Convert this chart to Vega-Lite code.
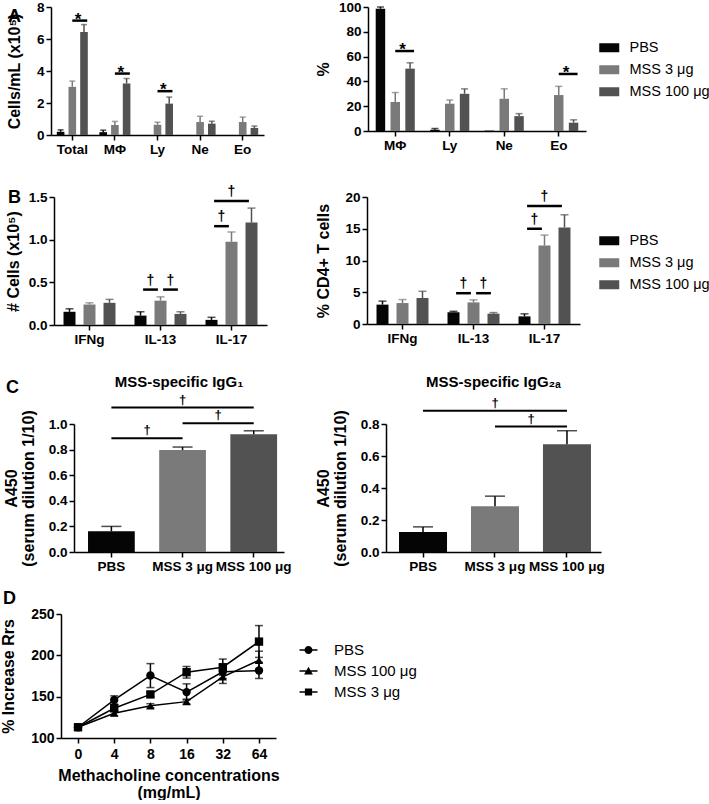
{
"$schema": "https://vega.github.io/schema/vega-lite/v6.json",
"padding": 0,
"background": "white",
"config": {
  "font": "Liberation Sans",
  "view": {"stroke": null},
  "axis": {"domainColor": "black", "domainWidth": 1.5, "tickColor": "black", "tickWidth": 1.5, "tickSize": 5, "labelColor": "black", "labelFontWeight": "bold", "labelFontSize": 13.5, "labelPadding": 2, "titleColor": "black", "titleFontWeight": "bold", "titleFontSize": 16, "titleLineHeight": 17, "grid": false},
  "axisX": {"labelAngle": 0},
  "title": {"color": "black", "fontWeight": "bold", "font": "Liberation Sans"},
  "legend": {"labelColor": "black", "labelFontSize": 15, "labelFont": "Liberation Sans", "padding": 0},
  "text": {"font": "Liberation Sans"}
},
"datasets": {
  "a1": [
    {"cat": "Total", "series": "PBS", "value": 0.2, "upper": 0.32},
    {"cat": "Total", "series": "MSS 3 μg", "value": 3.01, "upper": 3.37},
    {"cat": "Total", "series": "MSS 100 μg", "value": 6.44, "upper": 6.9},
    {"cat": "MΦ", "series": "PBS", "value": 0.18, "upper": 0.3},
    {"cat": "MΦ", "series": "MSS 3 μg", "value": 0.62, "upper": 0.85},
    {"cat": "MΦ", "series": "MSS 100 μg", "value": 3.22, "upper": 3.53},
    {"cat": "Ly", "series": "PBS", "value": 0, "upper": null},
    {"cat": "Ly", "series": "MSS 3 μg", "value": 0.64, "upper": 0.8},
    {"cat": "Ly", "series": "MSS 100 μg", "value": 1.96, "upper": 2.37},
    {"cat": "Ne", "series": "PBS", "value": 0, "upper": null},
    {"cat": "Ne", "series": "MSS 3 μg", "value": 0.81, "upper": 1.17},
    {"cat": "Ne", "series": "MSS 100 μg", "value": 0.71, "upper": 0.86},
    {"cat": "Eo", "series": "PBS", "value": 0, "upper": null},
    {"cat": "Eo", "series": "MSS 3 μg", "value": 0.81, "upper": 1.12},
    {"cat": "Eo", "series": "MSS 100 μg", "value": 0.44, "upper": 0.56}
  ],
  "a1s": [
    {"cat": "Total", "from": "MSS 3 μg", "to": "MSS 100 μg", "level": 7.15, "sym": "*"},
    {"cat": "MΦ", "from": "MSS 3 μg", "to": "MSS 100 μg", "level": 3.84, "sym": "*"},
    {"cat": "Ly", "from": "MSS 3 μg", "to": "MSS 100 μg", "level": 2.74, "sym": "*"}
  ],
  "a2": [
    {"cat": "MΦ", "series": "PBS", "value": 98.6, "upper": 100},
    {"cat": "MΦ", "series": "MSS 3 μg", "value": 23.4, "upper": 31},
    {"cat": "MΦ", "series": "MSS 100 μg", "value": 50.3, "upper": 55},
    {"cat": "Ly", "series": "PBS", "value": 1, "upper": 2},
    {"cat": "Ly", "series": "MSS 3 μg", "value": 22, "upper": 25},
    {"cat": "Ly", "series": "MSS 100 μg", "value": 30, "upper": 34},
    {"cat": "Ne", "series": "PBS", "value": 0.3, "upper": null},
    {"cat": "Ne", "series": "MSS 3 μg", "value": 26, "upper": 34},
    {"cat": "Ne", "series": "MSS 100 μg", "value": 12, "upper": 14},
    {"cat": "Eo", "series": "PBS", "value": 0, "upper": null},
    {"cat": "Eo", "series": "MSS 3 μg", "value": 29, "upper": 36},
    {"cat": "Eo", "series": "MSS 100 μg", "value": 6.7, "upper": 9}
  ],
  "a2s": [
    {"cat": "MΦ", "from": "MSS 3 μg", "to": "MSS 100 μg", "level": 64.5, "sym": "*"},
    {"cat": "Eo", "from": "MSS 3 μg", "to": "MSS 100 μg", "level": 46, "sym": "*"}
  ],
  "b1": [
    {"cat": "IFNg", "series": "PBS", "value": 0.155, "upper": 0.19},
    {"cat": "IFNg", "series": "MSS 3 μg", "value": 0.24, "upper": 0.26},
    {"cat": "IFNg", "series": "MSS 100 μg", "value": 0.26, "upper": 0.3},
    {"cat": "IL-13", "series": "PBS", "value": 0.11, "upper": 0.155},
    {"cat": "IL-13", "series": "MSS 3 μg", "value": 0.285, "upper": 0.33},
    {"cat": "IL-13", "series": "MSS 100 μg", "value": 0.13, "upper": 0.155},
    {"cat": "IL-17", "series": "PBS", "value": 0.06, "upper": 0.09},
    {"cat": "IL-17", "series": "MSS 3 μg", "value": 0.975, "upper": 1.09},
    {"cat": "IL-17", "series": "MSS 100 μg", "value": 1.2, "upper": 1.37}
  ],
  "b1s": [
    {"cat": "IL-13", "from": "PBS", "to": "MSS 3 μg", "level": 0.415, "sym": "†"},
    {"cat": "IL-13", "from": "MSS 3 μg", "to": "MSS 100 μg", "level": 0.415, "sym": "†"},
    {"cat": "IL-17", "from": "PBS", "to": "MSS 3 μg", "level": 1.158, "sym": "†"},
    {"cat": "IL-17", "from": "PBS", "to": "MSS 100 μg", "level": 1.454, "sym": "†"}
  ],
  "b2": [
    {"cat": "IFNg", "series": "PBS", "value": 3.05, "upper": 3.6},
    {"cat": "IFNg", "series": "MSS 3 μg", "value": 3.3, "upper": 3.85},
    {"cat": "IFNg", "series": "MSS 100 μg", "value": 4.1, "upper": 5.15},
    {"cat": "IL-13", "series": "PBS", "value": 1.85, "upper": 2.0},
    {"cat": "IL-13", "series": "MSS 3 μg", "value": 3.4, "upper": 3.8},
    {"cat": "IL-13", "series": "MSS 100 μg", "value": 1.63, "upper": 1.8},
    {"cat": "IL-17", "series": "PBS", "value": 1.2, "upper": 1.6},
    {"cat": "IL-17", "series": "MSS 3 μg", "value": 12.35, "upper": 14.0},
    {"cat": "IL-17", "series": "MSS 100 μg", "value": 15.2, "upper": 17.2}
  ],
  "b2s": [
    {"cat": "IL-13", "from": "PBS", "to": "MSS 3 μg", "level": 4.85, "sym": "†"},
    {"cat": "IL-13", "from": "MSS 3 μg", "to": "MSS 100 μg", "level": 4.85, "sym": "†"},
    {"cat": "IL-17", "from": "PBS", "to": "MSS 3 μg", "level": 15.0, "sym": "†"},
    {"cat": "IL-17", "from": "PBS", "to": "MSS 100 μg", "level": 18.6, "sym": "†"}
  ],
  "c1": [
    {"series": "PBS", "value": 0.162, "upper": 0.2},
    {"series": "MSS 3 μg", "value": 0.796, "upper": 0.82},
    {"series": "MSS 100 μg", "value": 0.92, "upper": 0.947}
  ],
  "c1s": [
    {"from": "PBS", "to": "MSS 3 μg", "level": 0.888, "sym": "†"},
    {"from": "MSS 3 μg", "to": "MSS 100 μg", "level": 1.005, "sym": "†"},
    {"from": "PBS", "to": "MSS 100 μg", "level": 1.128, "sym": "†"}
  ],
  "c2": [
    {"series": "PBS", "value": 0.125, "upper": 0.157},
    {"series": "MSS 3 μg", "value": 0.286, "upper": 0.349},
    {"series": "MSS 100 μg", "value": 0.673, "upper": 0.758}
  ],
  "c2s": [
    {"from": "MSS 3 μg", "to": "MSS 100 μg", "level": 0.784, "sym": "†"},
    {"from": "PBS", "to": "MSS 100 μg", "level": 0.883, "sym": "†"}
  ],
  "d": [
    {"series": "PBS", "conc": 0, "value": 113, "lo": 112, "hi": 114},
    {"series": "PBS", "conc": 4, "value": 146, "lo": 141, "hi": 151},
    {"series": "PBS", "conc": 8, "value": 175.6, "lo": 161, "hi": 190},
    {"series": "PBS", "conc": 16, "value": 155.5, "lo": 146, "hi": 165.5},
    {"series": "PBS", "conc": 32, "value": 180, "lo": 172, "hi": 188},
    {"series": "PBS", "conc": 64, "value": 181.6, "lo": 172, "hi": 191.5},
    {"series": "MSS 100 μg", "conc": 0, "value": 113, "lo": 112, "hi": 114},
    {"series": "MSS 100 μg", "conc": 4, "value": 130, "lo": 127, "hi": 133},
    {"series": "MSS 100 μg", "conc": 8, "value": 139, "lo": 136.5, "hi": 141.5},
    {"series": "MSS 100 μg", "conc": 16, "value": 144, "lo": 141, "hi": 147},
    {"series": "MSS 100 μg", "conc": 32, "value": 174, "lo": 166, "hi": 182},
    {"series": "MSS 100 μg", "conc": 64, "value": 194, "lo": 183, "hi": 205},
    {"series": "MSS 3 μg", "conc": 0, "value": 113, "lo": 112, "hi": 114},
    {"series": "MSS 3 μg", "conc": 4, "value": 136, "lo": 132, "hi": 140},
    {"series": "MSS 3 μg", "conc": 8, "value": 152.7, "lo": 150, "hi": 155.5},
    {"series": "MSS 3 μg", "conc": 16, "value": 179.6, "lo": 172.5, "hi": 186.5},
    {"series": "MSS 3 μg", "conc": 32, "value": 185.6, "lo": 176, "hi": 195.5},
    {"series": "MSS 3 μg", "conc": 64, "value": 216.6, "lo": 197.5, "hi": 236}
  ]
},
"columns": 1,
"align": "none",
"spacing": 16,
"resolve": {"scale": {"color": "independent", "shape": "independent", "xOffset": "independent"}, "legend": {"color": "independent", "shape": "independent"}},
"concat": [
{
  "columns": 1,
  "align": "none",
  "spacing": 28,
  "resolve": {"scale": {"color": "independent", "shape": "independent", "xOffset": "independent"}, "legend": {"color": "independent", "shape": "independent"}},
  "concat": [
  {
    "hconcat": [
    {
      "width": 213, "height": 128,
      "title": {"text": "A", "anchor": "start", "frame": "group", "fontSize": 18, "offset": -25.5, "baseline": "top", "dx": -43},
      "data": {"name": "a1"},
      "encoding": {"x": {"field": "cat", "type": "nominal", "sort": ["Total", "MΦ", "Ly", "Ne", "Eo"], "scale": {"paddingInner": 0.176, "paddingOuter": 0.088}, "axis": {"title": null}}},
      "layer": [
        {"mark": {"type": "bar"}, "encoding": {
          "xOffset": {"field": "series", "type": "nominal", "sort": ["PBS", "MSS 3 μg", "MSS 100 μg"], "scale": {"domain": ["PBS", "MSS 3 μg", "MSS 100 μg"], "paddingInner": 0.35, "paddingOuter": 0.175}},
          "y": {"field": "value", "type": "quantitative", "title": "Cells/mL (x10⁵)", "scale": {"domain": [0, 8], "nice": false}, "axis": {"values": [0, 2, 4, 6, 8], "titlePadding": 14}},
          "color": {"field": "series", "type": "nominal", "scale": {"domain": ["PBS", "MSS 3 μg", "MSS 100 μg"], "range": ["#050505", "#7a7a7a", "#525252"]}, "legend": null}}},
        {"transform": [{"filter": "isValid(datum.upper)"}], "mark": {"type": "rule", "strokeWidth": 1.5}, "encoding": {
          "xOffset": {"field": "series", "type": "nominal", "sort": ["PBS", "MSS 3 μg", "MSS 100 μg"], "scale": {"domain": ["PBS", "MSS 3 μg", "MSS 100 μg"], "paddingInner": 0.35, "paddingOuter": 0.175}},
          "y": {"field": "value", "type": "quantitative", "title": "Cells/mL (x10⁵)", "scale": {"domain": [0, 8], "nice": false}, "axis": {"values": [0, 2, 4, 6, 8], "titlePadding": 14}},
          "y2": {"field": "upper"},
          "color": {"field": "series", "type": "nominal", "scale": {"domain": ["PBS", "MSS 3 μg", "MSS 100 μg"], "range": ["#050505", "#7a7a7a", "#525252"]}, "legend": null}}},
        {"transform": [{"filter": "isValid(datum.upper)"}], "mark": {"type": "tick", "size": 6, "thickness": 1.5}, "encoding": {
          "xOffset": {"field": "series", "type": "nominal", "sort": ["PBS", "MSS 3 μg", "MSS 100 μg"], "scale": {"domain": ["PBS", "MSS 3 μg", "MSS 100 μg"], "paddingInner": 0.35, "paddingOuter": 0.175}},
          "y": {"field": "upper", "type": "quantitative", "title": "Cells/mL (x10⁵)", "scale": {"domain": [0, 8], "nice": false}, "axis": {"values": [0, 2, 4, 6, 8], "titlePadding": 14}},
          "color": {"field": "series", "type": "nominal", "scale": {"domain": ["PBS", "MSS 3 μg", "MSS 100 μg"], "range": ["#050505", "#7a7a7a", "#525252"]}, "legend": null}}},
        {"data": {"name": "a1s"}, "transform": [{"fold": ["from", "to"], "as": ["end", "series"]}], "mark": {"type": "line", "color": "black", "strokeWidth": 2.5}, "encoding": {
          "xOffset": {"field": "series", "type": "nominal", "sort": ["PBS", "MSS 3 μg", "MSS 100 μg"], "scale": {"domain": ["PBS", "MSS 3 μg", "MSS 100 μg"], "paddingInner": 0.35, "paddingOuter": 0.175}},
          "y": {"field": "level", "type": "quantitative", "title": "Cells/mL (x10⁵)", "scale": {"domain": [0, 8], "nice": false}, "axis": {"values": [0, 2, 4, 6, 8], "titlePadding": 14}},
          "detail": [{"field": "cat"}, {"field": "from"}, {"field": "to"}]}},
        {"data": {"name": "a1s"}, "transform": [{"calculate": "(indexof(['PBS','MSS 3 μg','MSS 100 μg'], datum.from) + indexof(['PBS','MSS 3 μg','MSS 100 μg'], datum.to)) / 2", "as": "mid"}], "mark": {"type": "text", "fontSize": 17, "fontWeight": "bold", "baseline": "alphabetic", "dy": 4, "color": "black"}, "encoding": {
          "xOffset": {"field": "mid", "type": "quantitative", "scale": {"domain": [-0.5, 2.5], "nice": false, "zero": false}},
          "y": {"field": "level", "type": "quantitative", "title": "Cells/mL (x10⁵)", "scale": {"domain": [0, 8], "nice": false}, "axis": {"values": [0, 2, 4, 6, 8], "titlePadding": 14}},
          "text": {"field": "sym"}}}
      ],
      "resolve": {"scale": {"xOffset": "independent"}}
    },
    {
      "width": 218, "height": 124,
      "data": {"name": "a2"},
      "encoding": {"x": {"field": "cat", "type": "nominal", "sort": ["MΦ", "Ly", "Ne", "Eo"], "scale": {"paddingInner": 0.185, "paddingOuter": 0.0925}, "axis": {"title": null}}},
      "layer": [
        {"mark": {"type": "bar"}, "encoding": {
          "xOffset": {"field": "series", "type": "nominal", "sort": ["PBS", "MSS 3 μg", "MSS 100 μg"], "scale": {"domain": ["PBS", "MSS 3 μg", "MSS 100 μg"], "paddingInner": 0.36, "paddingOuter": 0.18}},
          "y": {"field": "value", "type": "quantitative", "title": "%", "scale": {"domain": [0, 100], "nice": false}, "axis": {"values": [0, 20, 40, 60, 80, 100], "titlePadding": 6.5}},
          "color": {"field": "series", "type": "nominal", "scale": {"domain": ["PBS", "MSS 3 μg", "MSS 100 μg"], "range": ["#050505", "#7a7a7a", "#525252"]}, "legend": {"orient": "none", "legendX": 234, "legendY": 33.5, "title": null, "symbolType": "M-2,-0.9H2V0.9H-2Z", "symbolSize": 100, "symbolStrokeWidth": 0, "labelFontSize": 14.5, "labelOffset": 13, "rowPadding": 7}}}},
        {"transform": [{"filter": "isValid(datum.upper)"}], "mark": {"type": "rule", "strokeWidth": 1.5}, "encoding": {
          "xOffset": {"field": "series", "type": "nominal", "sort": ["PBS", "MSS 3 μg", "MSS 100 μg"], "scale": {"domain": ["PBS", "MSS 3 μg", "MSS 100 μg"], "paddingInner": 0.36, "paddingOuter": 0.18}},
          "y": {"field": "value", "type": "quantitative", "title": "%", "scale": {"domain": [0, 100], "nice": false}, "axis": {"values": [0, 20, 40, 60, 80, 100], "titlePadding": 6.5}},
          "y2": {"field": "upper"},
          "color": {"field": "series", "type": "nominal", "scale": {"domain": ["PBS", "MSS 3 μg", "MSS 100 μg"], "range": ["#050505", "#7a7a7a", "#525252"]}, "legend": null}}},
        {"transform": [{"filter": "isValid(datum.upper)"}], "mark": {"type": "tick", "size": 7, "thickness": 1.5}, "encoding": {
          "xOffset": {"field": "series", "type": "nominal", "sort": ["PBS", "MSS 3 μg", "MSS 100 μg"], "scale": {"domain": ["PBS", "MSS 3 μg", "MSS 100 μg"], "paddingInner": 0.36, "paddingOuter": 0.18}},
          "y": {"field": "upper", "type": "quantitative", "title": "%", "scale": {"domain": [0, 100], "nice": false}, "axis": {"values": [0, 20, 40, 60, 80, 100], "titlePadding": 6.5}},
          "color": {"field": "series", "type": "nominal", "scale": {"domain": ["PBS", "MSS 3 μg", "MSS 100 μg"], "range": ["#050505", "#7a7a7a", "#525252"]}, "legend": null}}},
        {"data": {"name": "a2s"}, "transform": [{"fold": ["from", "to"], "as": ["end", "series"]}], "mark": {"type": "line", "color": "black", "strokeWidth": 2.5}, "encoding": {
          "xOffset": {"field": "series", "type": "nominal", "sort": ["PBS", "MSS 3 μg", "MSS 100 μg"], "scale": {"domain": ["PBS", "MSS 3 μg", "MSS 100 μg"], "paddingInner": 0.36, "paddingOuter": 0.18}},
          "y": {"field": "level", "type": "quantitative", "title": "%", "scale": {"domain": [0, 100], "nice": false}, "axis": {"values": [0, 20, 40, 60, 80, 100], "titlePadding": 6.5}},
          "detail": [{"field": "cat"}, {"field": "from"}, {"field": "to"}]}},
        {"data": {"name": "a2s"}, "transform": [{"calculate": "(indexof(['PBS','MSS 3 μg','MSS 100 μg'], datum.from) + indexof(['PBS','MSS 3 μg','MSS 100 μg'], datum.to)) / 2", "as": "mid"}], "mark": {"type": "text", "fontSize": 17, "fontWeight": "bold", "baseline": "alphabetic", "dy": 4, "color": "black"}, "encoding": {
          "xOffset": {"field": "mid", "type": "quantitative", "scale": {"domain": [-0.5, 2.5], "nice": false, "zero": false}},
          "y": {"field": "level", "type": "quantitative", "title": "%", "scale": {"domain": [0, 100], "nice": false}, "axis": {"values": [0, 20, 40, 60, 80, 100], "titlePadding": 6.5}},
          "text": {"field": "sym"}}}
      ],
      "resolve": {"scale": {"xOffset": "independent"}}
    }
    ],
    "spacing": 104,
    "bounds": "flush",
    "resolve": {"scale": {"color": "independent", "shape": "independent", "xOffset": "independent"}, "legend": {"color": "independent", "shape": "independent"}}
  },
  {
    "hconcat": [
    {
      "width": 216, "height": 128,
      "title": {"text": "B", "anchor": "start", "fontSize": 18, "offset": -21.6, "baseline": "top", "dx": 2},
      "data": {"name": "b1"},
      "encoding": {"x": {"field": "cat", "type": "nominal", "sort": ["IFNg", "IL-13", "IL-17"], "scale": {"range": [3, 216], "paddingInner": 0.155, "paddingOuter": 0.0775}, "axis": {"title": null}}},
      "layer": [
        {"mark": {"type": "bar"}, "encoding": {
          "xOffset": {"field": "series", "type": "nominal", "sort": ["PBS", "MSS 3 μg", "MSS 100 μg"], "scale": {"domain": ["PBS", "MSS 3 μg", "MSS 100 μg"], "paddingInner": 0.4, "paddingOuter": 0.2}},
          "y": {"field": "value", "type": "quantitative", "title": "# Cells (x10⁵)", "scale": {"domain": [0, 1.5], "nice": false}, "axis": {"values": [0, 0.5, 1, 1.5], "format": ".1f", "titlePadding": 6.25, "offset": -3}},
          "color": {"field": "series", "type": "nominal", "scale": {"domain": ["PBS", "MSS 3 μg", "MSS 100 μg"], "range": ["#050505", "#7a7a7a", "#525252"]}, "legend": null}}},
        {"transform": [{"filter": "isValid(datum.upper)"}], "mark": {"type": "rule", "strokeWidth": 1.5}, "encoding": {
          "xOffset": {"field": "series", "type": "nominal", "sort": ["PBS", "MSS 3 μg", "MSS 100 μg"], "scale": {"domain": ["PBS", "MSS 3 μg", "MSS 100 μg"], "paddingInner": 0.4, "paddingOuter": 0.2}},
          "y": {"field": "value", "type": "quantitative", "title": "# Cells (x10⁵)", "scale": {"domain": [0, 1.5], "nice": false}, "axis": {"values": [0, 0.5, 1, 1.5], "format": ".1f", "titlePadding": 6.25, "offset": -3}},
          "y2": {"field": "upper"},
          "color": {"field": "series", "type": "nominal", "scale": {"domain": ["PBS", "MSS 3 μg", "MSS 100 μg"], "range": ["#050505", "#7a7a7a", "#525252"]}, "legend": null}}},
        {"transform": [{"filter": "isValid(datum.upper)"}], "mark": {"type": "tick", "size": 8, "thickness": 1.5}, "encoding": {
          "xOffset": {"field": "series", "type": "nominal", "sort": ["PBS", "MSS 3 μg", "MSS 100 μg"], "scale": {"domain": ["PBS", "MSS 3 μg", "MSS 100 μg"], "paddingInner": 0.4, "paddingOuter": 0.2}},
          "y": {"field": "upper", "type": "quantitative", "title": "# Cells (x10⁵)", "scale": {"domain": [0, 1.5], "nice": false}, "axis": {"values": [0, 0.5, 1, 1.5], "format": ".1f", "titlePadding": 6.25, "offset": -3}},
          "color": {"field": "series", "type": "nominal", "scale": {"domain": ["PBS", "MSS 3 μg", "MSS 100 μg"], "range": ["#050505", "#7a7a7a", "#525252"]}, "legend": null}}},
        {"data": {"name": "b1s"}, "transform": [{"fold": ["from", "to"], "as": ["end", "series"]}, {"calculate": "indexof(['PBS','MSS 3 μg','MSS 100 μg'], datum.series) + (datum.end === 'from' ? 0.13 : -0.13)", "as": "pos"}], "mark": {"type": "line", "color": "black", "strokeWidth": 2.5}, "encoding": {
          "xOffset": {"field": "pos", "type": "quantitative", "scale": {"domain": [-0.5, 2.5], "nice": false, "zero": false}},
          "y": {"field": "level", "type": "quantitative", "title": "# Cells (x10⁵)", "scale": {"domain": [0, 1.5], "nice": false}, "axis": {"values": [0, 0.5, 1, 1.5], "format": ".1f", "titlePadding": 6.25, "offset": -3}},
          "detail": [{"field": "cat"}, {"field": "from"}, {"field": "to"}]}},
        {"data": {"name": "b1s"}, "transform": [{"calculate": "(indexof(['PBS','MSS 3 μg','MSS 100 μg'], datum.from) + indexof(['PBS','MSS 3 μg','MSS 100 μg'], datum.to)) / 2", "as": "mid"}], "mark": {"type": "text", "fontSize": 14, "fontWeight": "bold", "baseline": "alphabetic", "dy": -5, "color": "black"}, "encoding": {
          "xOffset": {"field": "mid", "type": "quantitative", "scale": {"domain": [-0.5, 2.5], "nice": false, "zero": false}},
          "y": {"field": "level", "type": "quantitative", "title": "# Cells (x10⁵)", "scale": {"domain": [0, 1.5], "nice": false}, "axis": {"values": [0, 0.5, 1, 1.5], "format": ".1f", "titlePadding": 6.25, "offset": -3}},
          "text": {"field": "sym"}}}
      ],
      "resolve": {"scale": {"xOffset": "independent"}}
    },
    {
      "width": 213, "height": 127,
      "data": {"name": "b2"},
      "encoding": {"x": {"field": "cat", "type": "nominal", "sort": ["IFNg", "IL-13", "IL-17"], "scale": {"paddingInner": 0.155, "paddingOuter": 0.0775}, "axis": {"title": null}}},
      "layer": [
        {"mark": {"type": "bar"}, "encoding": {
          "xOffset": {"field": "series", "type": "nominal", "sort": ["PBS", "MSS 3 μg", "MSS 100 μg"], "scale": {"domain": ["PBS", "MSS 3 μg", "MSS 100 μg"], "paddingInner": 0.4, "paddingOuter": 0.2}},
          "y": {"field": "value", "type": "quantitative", "title": "% CD4+ T cells", "scale": {"domain": [0, 20], "nice": false}, "axis": {"values": [0, 5, 10, 15, 20], "titlePadding": 13}},
          "color": {"field": "series", "type": "nominal", "scale": {"domain": ["PBS", "MSS 3 μg", "MSS 100 μg"], "range": ["#050505", "#7a7a7a", "#525252"]}, "legend": {"orient": "none", "legendX": 235, "legendY": 36.5, "title": null, "symbolType": "M-2,-0.9H2V0.9H-2Z", "symbolSize": 100, "symbolStrokeWidth": 0, "labelFontSize": 14.5, "labelOffset": 13, "rowPadding": 7}}}},
        {"transform": [{"filter": "isValid(datum.upper)"}], "mark": {"type": "rule", "strokeWidth": 1.5}, "encoding": {
          "xOffset": {"field": "series", "type": "nominal", "sort": ["PBS", "MSS 3 μg", "MSS 100 μg"], "scale": {"domain": ["PBS", "MSS 3 μg", "MSS 100 μg"], "paddingInner": 0.4, "paddingOuter": 0.2}},
          "y": {"field": "value", "type": "quantitative", "title": "% CD4+ T cells", "scale": {"domain": [0, 20], "nice": false}, "axis": {"values": [0, 5, 10, 15, 20], "titlePadding": 13}},
          "y2": {"field": "upper"},
          "color": {"field": "series", "type": "nominal", "scale": {"domain": ["PBS", "MSS 3 μg", "MSS 100 μg"], "range": ["#050505", "#7a7a7a", "#525252"]}, "legend": null}}},
        {"transform": [{"filter": "isValid(datum.upper)"}], "mark": {"type": "tick", "size": 8, "thickness": 1.5}, "encoding": {
          "xOffset": {"field": "series", "type": "nominal", "sort": ["PBS", "MSS 3 μg", "MSS 100 μg"], "scale": {"domain": ["PBS", "MSS 3 μg", "MSS 100 μg"], "paddingInner": 0.4, "paddingOuter": 0.2}},
          "y": {"field": "upper", "type": "quantitative", "title": "% CD4+ T cells", "scale": {"domain": [0, 20], "nice": false}, "axis": {"values": [0, 5, 10, 15, 20], "titlePadding": 13}},
          "color": {"field": "series", "type": "nominal", "scale": {"domain": ["PBS", "MSS 3 μg", "MSS 100 μg"], "range": ["#050505", "#7a7a7a", "#525252"]}, "legend": null}}},
        {"data": {"name": "b2s"}, "transform": [{"fold": ["from", "to"], "as": ["end", "series"]}, {"calculate": "indexof(['PBS','MSS 3 μg','MSS 100 μg'], datum.series) + (datum.end === 'from' ? 0.13 : -0.13)", "as": "pos"}], "mark": {"type": "line", "color": "black", "strokeWidth": 2.5}, "encoding": {
          "xOffset": {"field": "pos", "type": "quantitative", "scale": {"domain": [-0.5, 2.5], "nice": false, "zero": false}},
          "y": {"field": "level", "type": "quantitative", "title": "% CD4+ T cells", "scale": {"domain": [0, 20], "nice": false}, "axis": {"values": [0, 5, 10, 15, 20], "titlePadding": 13}},
          "detail": [{"field": "cat"}, {"field": "from"}, {"field": "to"}]}},
        {"data": {"name": "b2s"}, "transform": [{"calculate": "(indexof(['PBS','MSS 3 μg','MSS 100 μg'], datum.from) + indexof(['PBS','MSS 3 μg','MSS 100 μg'], datum.to)) / 2", "as": "mid"}], "mark": {"type": "text", "fontSize": 14, "fontWeight": "bold", "baseline": "alphabetic", "dy": -5, "color": "black"}, "encoding": {
          "xOffset": {"field": "mid", "type": "quantitative", "scale": {"domain": [-0.5, 2.5], "nice": false, "zero": false}},
          "y": {"field": "level", "type": "quantitative", "title": "% CD4+ T cells", "scale": {"domain": [0, 20], "nice": false}, "axis": {"values": [0, 5, 10, 15, 20], "titlePadding": 13}},
          "text": {"field": "sym"}}}
      ],
      "resolve": {"scale": {"xOffset": "independent"}}
    }
    ],
    "spacing": 100,
    "bounds": "flush",
    "resolve": {"scale": {"color": "independent", "shape": "independent", "xOffset": "independent"}, "legend": {"color": "independent", "shape": "independent"}}
  },
  {
    "title": {"text": "C", "anchor": "start", "fontSize": 18, "offset": -22.4, "baseline": "top", "dx": 2},
    "hconcat": [
    {
      "width": 233, "height": 128,
      "title": {"text": "MSS-specific IgG₁", "frame": "group", "anchor": "middle", "fontSize": 15, "offset": 4, "baseline": "top", "dx": 11.5},
      "layer": [
        {
          "data": {"name": "c1"},
          "encoding": {"x": {"field": "series", "type": "nominal", "sort": ["PBS", "MSS 3 μg", "MSS 100 μg"], "scale": {"domain": ["PBS", "MSS 3 μg", "MSS 100 μg"], "range": [23, 233], "paddingInner": 0.343, "paddingOuter": 0.147, "align": 0.67}, "axis": {"title": null, "labelOverlap": false}}},
          "layer": [
            {"mark": {"type": "bar"}, "encoding": {
              "y": {"field": "value", "type": "quantitative", "title": ["A450", "(serum dilution 1/10)"], "scale": {"domain": [0, 1], "nice": false}, "axis": {"values": [0, 0.2, 0.4, 0.6, 0.8, 1], "format": ".1f", "titlePadding": 11.25, "offset": -23}},
              "color": {"field": "series", "type": "nominal", "scale": {"domain": ["PBS", "MSS 3 μg", "MSS 100 μg"], "range": ["#050505", "#7a7a7a", "#525252"]}, "legend": null}}},
            {"mark": {"type": "rule", "strokeWidth": 1.5, "color": "black"}, "encoding": {
              "y": {"field": "value", "type": "quantitative", "title": ["A450", "(serum dilution 1/10)"], "scale": {"domain": [0, 1], "nice": false}, "axis": {"values": [0, 0.2, 0.4, 0.6, 0.8, 1], "format": ".1f", "titlePadding": 11.25, "offset": -23}},
              "y2": {"field": "upper"}}},
            {"mark": {"type": "tick", "size": 20, "thickness": 1.5, "color": "black"}, "encoding": {
              "y": {"field": "upper", "type": "quantitative", "title": ["A450", "(serum dilution 1/10)"], "scale": {"domain": [0, 1], "nice": false}, "axis": {"values": [0, 0.2, 0.4, 0.6, 0.8, 1], "format": ".1f", "titlePadding": 11.25, "offset": -23}}}},
            {"data": {"name": "c1s"}, "transform": [{"fold": ["from", "to"], "as": ["end", "series"]}], "mark": {"type": "line", "color": "black", "strokeWidth": 2}, "encoding": {
              "y": {"field": "level", "type": "quantitative", "title": ["A450", "(serum dilution 1/10)"], "scale": {"domain": [0, 1], "nice": false}, "axis": {"values": [0, 0.2, 0.4, 0.6, 0.8, 1], "format": ".1f", "titlePadding": 11.25, "offset": -23}},
              "detail": [{"field": "from"}, {"field": "to"}]}}
          ]
        },
        {"data": {"name": "c1s"}, "transform": [{"calculate": "(indexof(['PBS','MSS 3 μg','MSS 100 μg'], datum.from) + indexof(['PBS','MSS 3 μg','MSS 100 μg'], datum.to)) / 2", "as": "mid"}], "mark": {"type": "text", "fontSize": 13, "fontWeight": "bold", "baseline": "alphabetic", "dy": -4, "color": "black"}, "encoding": {
          "x": {"field": "mid", "type": "quantitative", "scale": {"domain": [-0.526, 2.425], "range": [23, 233], "nice": false, "zero": false}, "axis": null},
          "y": {"field": "level", "type": "quantitative", "title": ["A450", "(serum dilution 1/10)"], "scale": {"domain": [0, 1], "nice": false}, "axis": {"values": [0, 0.2, 0.4, 0.6, 0.8, 1], "format": ".1f", "titlePadding": 11.25, "offset": -23}},
          "text": {"field": "sym"}}}
      ],
      "resolve": {"scale": {"x": "independent"}, "axis": {"x": "independent"}}
    },
    {
      "width": 215, "height": 128,
      "title": {"text": "MSS-specific IgG₂ₐ", "frame": "group", "anchor": "middle", "fontSize": 15, "offset": 7, "baseline": "top"},
      "layer": [
        {
          "data": {"name": "c2"},
          "encoding": {"x": {"field": "series", "type": "nominal", "sort": ["PBS", "MSS 3 μg", "MSS 100 μg"], "scale": {"domain": ["PBS", "MSS 3 μg", "MSS 100 μg"], "paddingInner": 0.333, "paddingOuter": 0.16, "align": 0.565}, "axis": {"title": null, "labelOverlap": false}}},
          "layer": [
            {"mark": {"type": "bar"}, "encoding": {
              "y": {"field": "value", "type": "quantitative", "title": ["A450", "(serum dilution 1/10)"], "scale": {"domain": [0, 0.8], "nice": false}, "axis": {"values": [0, 0.2, 0.4, 0.6, 0.8], "format": ".1f", "titlePadding": 11.25}},
              "color": {"field": "series", "type": "nominal", "scale": {"domain": ["PBS", "MSS 3 μg", "MSS 100 μg"], "range": ["#050505", "#7a7a7a", "#525252"]}, "legend": null}}},
            {"mark": {"type": "rule", "strokeWidth": 1.5, "color": "black"}, "encoding": {
              "y": {"field": "value", "type": "quantitative", "title": ["A450", "(serum dilution 1/10)"], "scale": {"domain": [0, 0.8], "nice": false}, "axis": {"values": [0, 0.2, 0.4, 0.6, 0.8], "format": ".1f", "titlePadding": 11.25}},
              "y2": {"field": "upper"}}},
            {"mark": {"type": "tick", "size": 20, "thickness": 1.5, "color": "black"}, "encoding": {
              "y": {"field": "upper", "type": "quantitative", "title": ["A450", "(serum dilution 1/10)"], "scale": {"domain": [0, 0.8], "nice": false}, "axis": {"values": [0, 0.2, 0.4, 0.6, 0.8], "format": ".1f", "titlePadding": 11.25}}}},
            {"data": {"name": "c2s"}, "transform": [{"fold": ["from", "to"], "as": ["end", "series"]}], "mark": {"type": "line", "color": "black", "strokeWidth": 2}, "encoding": {
              "y": {"field": "level", "type": "quantitative", "title": ["A450", "(serum dilution 1/10)"], "scale": {"domain": [0, 0.8], "nice": false}, "axis": {"values": [0, 0.2, 0.4, 0.6, 0.8], "format": ".1f", "titlePadding": 11.25}},
              "detail": [{"field": "from"}, {"field": "to"}]}}
          ]
        },
        {"data": {"name": "c2s"}, "transform": [{"calculate": "(indexof(['PBS','MSS 3 μg','MSS 100 μg'], datum.from) + indexof(['PBS','MSS 3 μg','MSS 100 μg'], datum.to)) / 2", "as": "mid"}], "mark": {"type": "text", "fontSize": 13, "fontWeight": "bold", "baseline": "alphabetic", "dy": -4, "color": "black"}, "encoding": {
          "x": {"field": "mid", "type": "quantitative", "scale": {"domain": [-0.514, 2.472], "nice": false, "zero": false}, "axis": null},
          "y": {"field": "level", "type": "quantitative", "title": ["A450", "(serum dilution 1/10)"], "scale": {"domain": [0, 0.8], "nice": false}, "axis": {"values": [0, 0.2, 0.4, 0.6, 0.8], "format": ".1f", "titlePadding": 11.25}},
          "text": {"field": "sym"}}}
      ],
      "resolve": {"scale": {"x": "independent"}, "axis": {"x": "independent"}}
    }
    ],
    "spacing": 102,
    "bounds": "flush",
    "resolve": {"scale": {"color": "independent", "shape": "independent", "xOffset": "independent"}, "legend": {"color": "independent", "shape": "independent"}}
  }
  ]
},
{
  "width": 225, "height": 124,
  "title": {"text": "D", "anchor": "start", "fontSize": 18, "offset": -0.6, "baseline": "top", "dx": 2},
  "data": {"name": "d"},
  "encoding": {"x": {"field": "conc", "type": "ordinal", "scale": {"type": "point", "padding": 0.47, "range": [10, 225]}, "axis": {"title": ["Methacholine concentrations", "(mg/mL)"], "labelFontSize": 14, "labelPadding": 4, "titlePadding": 6, "titleLineHeight": 17, "titleX": 117.5}}},
  "layer": [
    {"mark": {"type": "line", "color": "black", "strokeWidth": 1.5}, "encoding": {
      "y": {"field": "value", "type": "quantitative", "title": "% Increase Rrs", "scale": {"domain": [100, 250], "nice": false, "zero": false}, "axis": {"values": [100, 150, 200, 250], "titlePadding": 13.65, "labelFontSize": 14, "offset": -10}},
      "detail": {"field": "series"}}},
    {"mark": {"type": "rule", "color": "black", "strokeWidth": 1.5}, "encoding": {
      "y": {"field": "lo", "type": "quantitative", "title": "% Increase Rrs", "scale": {"domain": [100, 250], "nice": false, "zero": false}, "axis": {"values": [100, 150, 200, 250], "titlePadding": 13.65, "labelFontSize": 14, "offset": -10}},
      "y2": {"field": "hi"}}},
    {"mark": {"type": "tick", "color": "black", "size": 8, "thickness": 1.5}, "encoding": {
      "y": {"field": "lo", "type": "quantitative", "title": "% Increase Rrs", "scale": {"domain": [100, 250], "nice": false, "zero": false}, "axis": {"values": [100, 150, 200, 250], "titlePadding": 13.65, "labelFontSize": 14, "offset": -10}}}},
    {"mark": {"type": "tick", "color": "black", "size": 8, "thickness": 1.5}, "encoding": {
      "y": {"field": "hi", "type": "quantitative", "title": "% Increase Rrs", "scale": {"domain": [100, 250], "nice": false, "zero": false}, "axis": {"values": [100, 150, 200, 250], "titlePadding": 13.65, "labelFontSize": 14, "offset": -10}}}},
    {"mark": {"type": "point", "filled": true, "opacity": 1, "size": 70}, "encoding": {
      "y": {"field": "value", "type": "quantitative", "title": "% Increase Rrs", "scale": {"domain": [100, 250], "nice": false, "zero": false}, "axis": {"values": [100, 150, 200, 250], "titlePadding": 13.65, "labelFontSize": 14, "offset": -10}},
      "shape": {"field": "series", "type": "nominal", "scale": {"domain": ["PBS", "MSS 3 μg", "MSS 100 μg"], "range": ["circle", "square", "triangle-up"]}, "legend": null},
      "color": {"field": "series", "type": "nominal", "scale": {"domain": ["PBS", "MSS 100 μg", "MSS 3 μg"], "range": ["black", "black", "black"]},
        "legend": {"orient": "none", "legendX": 250, "legendY": 28.5, "title": null, "symbolSize": 64, "symbolStrokeWidth": 0, "labelFontSize": 15, "labelOffset": 18, "rowPadding": 5,
          "symbolType": {"expr": "datum.value === 'PBS' ? 'M-2.25,-0.19H2.25V0.19H-2.25Z M-1,0A1,1 0 1,1 1,0A1,1 0 1,1 -1,0Z' : (datum.value === 'MSS 100 μg' ? 'M-2.25,-0.19H2.25V0.19H-2.25Z M0,-1.05L1.1,0.85H-1.1Z' : 'M-2.25,-0.19H2.25V0.19H-2.25Z M-0.9,-0.9H0.9V0.9H-0.9Z')"}}}}}
  ]
}
]
}
